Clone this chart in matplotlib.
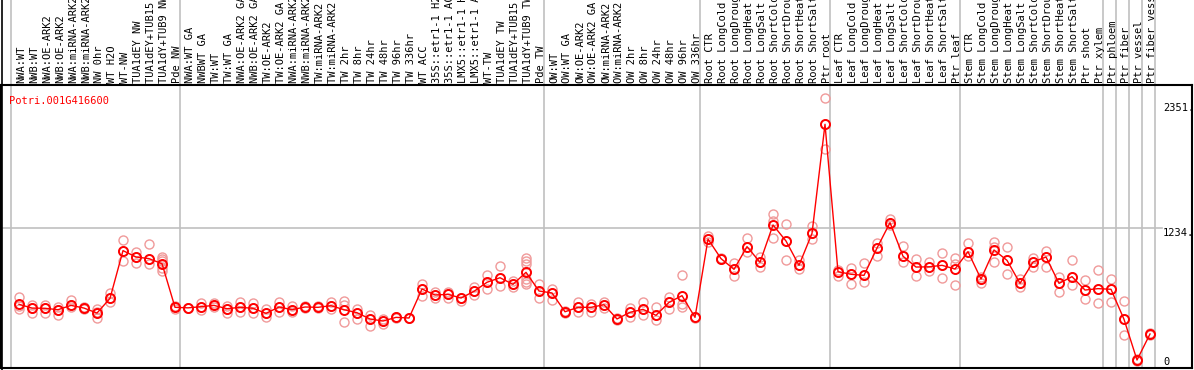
import numpy as np
import matplotlib
matplotlib.use("Agg")
import matplotlib.pyplot as plt
import matplotlib.transforms as mtransforms

gene = "Potri.001G416600"

samples = [
    "NWA:WT", "NWB:WT", "NWA:OE-ARK2", "NWB:OE-ARK2", "NWA:miRNA-ARK2", "NWB:miRNA-ARK2",
    "NW 0hr", "WT H2O", "WT-NW", "TUA1dEY NW", "TUA1dEY+TUB15 NW", "TUA1dY+TUB9 NW", "Pde NW",
    "NWA:WT GA", "NWBWT GA", "TW:WT", "TW:WT GA", "NWA:OE-ARK2 GA", "NWB:OE-ARK2 GA",
    "TW:OE-ARK2", "TW:OE-ARK2 GA", "NWA:miRNA-ARK2 GA", "NWB:miRNA-ARK2 GA", "TW:miRNA-ARK2",
    "TW:miRNA-ARK2 GA", "TW 2hr", "TW 8hr", "TW 24hr", "TW 48hr", "TW 96hr", "TW 336hr",
    "WT ACC", "35S::etr1-1 H2O", "35S::etr1-1 ACC", "LMX5::etr1-1 H2O", "LMX5::etr1-1 ACC",
    "WT-TW", "TUA1dEY TW", "TUA1dEY+TUB15 TW", "TUA1dY+TUB9 TW", "Pde TW",
    "OW:WT", "OW:WT GA", "OW:OE-ARK2", "OW:OE-ARK2 GA", "OW:miRNA-ARK2", "OW:miRNA-ARK2 GA",
    "OW 2hr", "OW 8hr", "OW 24hr", "OW 48hr", "OW 96hr", "OW 336hr",
    "Root CTR", "Root LongCold", "Root LongDrought", "Root LongHeat", "Root LongSalt",
    "Root ShortCold", "Root ShortDrought", "Root ShortHeat", "Root ShortSalt", "Ptr root",
    "Leaf CTR", "Leaf LongCold", "Leaf LongDrought", "Leaf LongHeat", "Leaf LongSalt",
    "Leaf ShortCold", "Leaf ShortDrought", "Leaf ShortHeat", "Leaf ShortSalt", "Ptr leaf",
    "Stem CTR", "Stem LongCold", "Stem LongDrought", "Stem LongHeat", "Stem LongSalt",
    "Stem ShortCold", "Stem ShortDrought", "Stem ShortHeat", "Stem ShortSalt", "Ptr shoot",
    "Ptr xylem", "Ptr phloem", "Ptr fiber", "Ptr vessel", "Ptr fiber vessel",
]

means = [
    530, 495, 493, 480, 520, 495, 449, 585, 1027, 968, 953, 906, 502,
    497, 508, 520, 489, 502, 493, 446, 505, 480, 505, 502, 517, 480, 452, 394, 375, 409, 403,
    672, 616, 622, 588, 650, 734, 776, 715, 826, 653,
    635, 461, 502, 502, 526, 394, 456, 483, 428, 548, 610, 409,
    1134, 953, 854, 1064, 919, 1265, 1116, 891, 1187, 2197,
    832, 808, 798, 1051, 1286, 975, 875, 877, 891, 857,
    1017, 764, 1033, 937, 724, 922, 968, 724, 786, 662, 675,
    669, 391, 14, 255,
]

reps = [
    [595, 510, 486], [526, 500, 452], [525, 500, 452], [508, 480, 431], [570, 520, 502],
    [506, 495, 484], [483, 460, 400], [632, 585, 554], [1123, 1027, 934], [1014, 968, 915],
    [1086, 953, 900], [971, 950, 930, 870, 836], [510, 502, 490],
    [500, 497, 494], [539, 508, 477], [545, 520, 505], [517, 489, 452], [551, 502, 458],
    [539, 493, 452], [489, 446, 409], [548, 505, 456], [511, 480, 456], [515, 505, 495],
    [510, 502, 495], [551, 517, 487], [558, 523, 366], [483, 452, 394], [428, 394, 329],
    [394, 375, 347], [412, 409, 406], [406, 403, 400], [718, 672, 610], [641, 616, 585],
    [647, 622, 591], [588, 585, 560], [687, 650, 620], [801, 734, 675], [885, 776, 697],
    [749, 715, 687], [956, 930, 900, 826, 760, 740, 718], [715, 653, 591],
    [675, 635, 570], [470, 461, 450], [551, 502, 458], [536, 502, 461], [554, 526, 495],
    [400, 394, 388], [498, 456, 415], [551, 483, 428], [502, 428, 384], [597, 548, 483],
    [798, 530, 508], [412, 409, 405],
    [1166, 1134, 1104], [960, 953, 946], [915, 854, 795], [1141, 1064, 1017], [971, 919, 878],
    [1366, 1300, 1147], [1274, 1116, 940], [937, 891, 860], [1258, 1187, 1132], [2438, 2197, 1969],
    [845, 832, 795], [863, 808, 715], [912, 798, 739], [1095, 1051, 980], [1317, 1286, 1260],
    [1067, 975, 925], [950, 875, 795], [925, 878, 841], [1002, 891, 771], [956, 903, 706],
    [1095, 1017, 977], [780, 764, 730], [1110, 1064, 919], [1058, 937, 811], [760, 724, 687],
    [962, 922, 878], [1026, 968, 873], [786, 724, 647], [937, 786, 709], [755, 662, 576],
    [845, 675, 539], [767, 669, 548], [558, 391, 245], [20, 14, 8], [262, 255, 250],
]

# index of last sample in each group (-1 = left edge)
group_ends = [-1, 12, 40, 52, 62, 72, 83, 84, 85, 86, 87]
yticks = [0, 1234, 2351]

mono = "DejaVu Sans Mono"
fs = 7.5
fig = plt.figure(figsize=(11.94, 3.70), dpi=100)
ax = fig.add_axes([1 / 1194, 2 / 370, 1191 / 1194, 283 / 370])
ax.set_xlim(-1.385, 90.23)
ax.set_ylim(-60, 2561)

for s in ax.spines.values():
    s.set_linewidth(1.5)
    s.set_color("black")
ax.set_xticks([])
ax.set_yticks([])

# group separators run up through the label area
for g in group_ends:
    ax.axvline(g + 0.4, ymin=0, ymax=1.31, color="#c0c0c0", lw=1.2, clip_on=False, zorder=0)
ax.axhline(1234, xmin=0, xmax=1161 / 1191, color="#c0c0c0", lw=1.2, zorder=0)

x = np.arange(len(samples))
for i, r in enumerate(reps):
    ax.plot([i] * len(r), r, "o", ms=6.5, mfc="none", mec="#f09a9a", mew=1.0, zorder=2)
ax.plot(x, means, "-", color="red", lw=1.0, zorder=3)
ax.plot(x, means, "o", ms=6.5, mfc="none", mec="red", mew=1.4, zorder=4)

trans = mtransforms.blended_transform_factory(ax.transData, ax.transAxes)
for i, lab in enumerate(samples):
    ax.text(i + 0.15, 1 + 2 / 283, lab, transform=trans, rotation=90, ha="center", va="bottom",
            fontsize=fs, family=mono, clip_on=False)

ax.text(88.0, yticks[2], "2351.", fontsize=fs, family=mono, va="center", ha="left")
ax.text(88.0, yticks[1], "1234.", fontsize=fs, family=mono, va="top", ha="left")
ax.text(88.0, yticks[0], "0", fontsize=fs, family=mono, va="center", ha="left")
ax.text(-0.8, 2410, gene, fontsize=fs, family=mono, color="red", va="center", ha="left")

# black rule on the very left edge, full height
fig.add_artist(plt.Line2D([1.5 / 1194, 1.5 / 1194], [0, 1], color="black", lw=1.2))

fig.savefig("out.png", dpi=100)
